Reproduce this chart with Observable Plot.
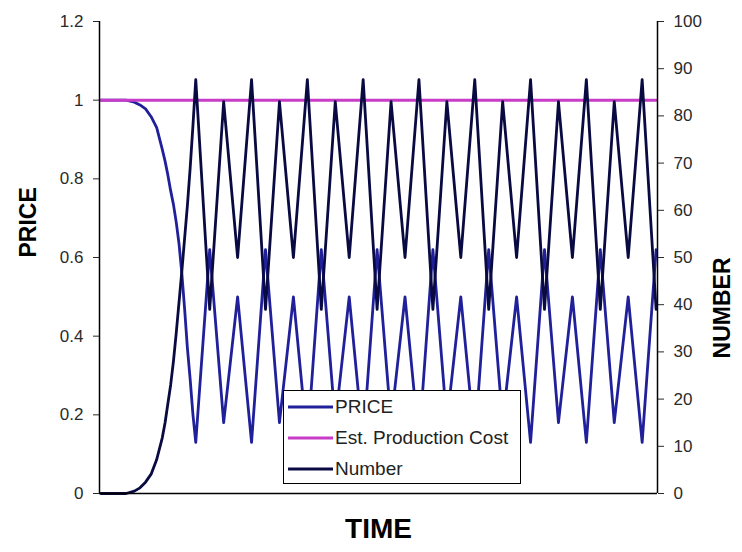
<!DOCTYPE html>
<html>
<head>
<meta charset="utf-8">
<script src="https://cdn.jsdelivr.net/npm/d3@7"></script>
<script src="https://cdn.jsdelivr.net/npm/@observablehq/plot@0.6"></script>
<style>
  html, body { margin: 0; padding: 0; background: #fff; }
  #wrap { position: relative; width: 742px; height: 552px; font-family: "Liberation Sans", Arial, sans-serif; }
  #legend { position: absolute; left: 283px; top: 390px; width: 238px; height: 94px; box-sizing: border-box;
            border: 1px solid #000; background: #fff; font-size: 19px; color: #222; }
  .row { position: absolute; left: 0; height: 24px; display: flex; align-items: center; }
  .row svg { margin-left: 4px; margin-right: 2px; }
</style>
</head>
<body>
<div id="wrap"><div id="chart"></div><div id="legend"></div></div>
<script>
// ---- data ----
const time = [1, 10, 13, 15, 17, 19, 21, 23, 24, 25, 26, 27, 28, 29, 30, 31, 32, 33, 34,
  35, 40, 45, 50, 55, 60, 65, 70, 75, 80, 85, 90, 95, 100, 105, 110, 115, 120,
  125, 130, 135, 140, 145, 150, 155, 160, 165, 170, 175, 180, 185, 190, 195, 200];
const price = [1, 1, 0.995, 0.988, 0.978, 0.958, 0.93, 0.875, 0.845, 0.81, 0.77, 0.735, 0.69, 0.635, 0.56, 0.47, 0.37, 0.29, 0.2,
  0.13, 0.62, 0.18, 0.5, 0.13, 0.62, 0.18, 0.5, 0.13, 0.62, 0.18, 0.5, 0.13, 0.62, 0.18, 0.5, 0.13, 0.62,
  0.18, 0.5, 0.13, 0.62, 0.18, 0.5, 0.13, 0.62, 0.18, 0.5, 0.13, 0.62, 0.18, 0.5, 0.13, 0.62];
const number = [0, 0, 0.5, 1.2, 2.4, 4.1, 7.2, 11.8, 15, 19, 23, 28, 34, 40.5, 47, 54, 61, 69, 78,
  87.7, 39, 83, 50, 87.7, 39, 83, 50, 87.7, 39, 83, 50, 87.7, 39, 83, 50, 87.7, 39,
  83, 50, 87.7, 39, 83, 50, 87.7, 39, 83, 50, 87.7, 39, 83, 50, 87.7, 39];
const costTime = [1, 200];
const cost = [1, 1];
const timeDomain = [0.5, 200.5];
const priceTicks = [0, 0.2, 0.4, 0.6, 0.8, 1, 1.2];
const numberTicks = [0, 10, 20, 30, 40, 50, 60, 70, 80, 90, 100];
const priceMax = 1.2, numberMax = 100;
const legendLabels = ["PRICE", "Est. Production Cost", "Number"];
const colors = {price: "#20209a", cost: "#c83cc8", number: "#0a0a42"};

const k = priceMax / numberMax; // secondary axis ratio
const priceData = time.map((t, i) => ({t, v: price[i]}));
const numberData = time.map((t, i) => ({t, v: number[i]}));
const costData = costTime.map((t, i) => ({t, v: cost[i]}));

const chart = Plot.plot({
  width: 742, height: 552,
  marginLeft: 99, marginRight: 85, marginTop: 21, marginBottom: 59,
  x: {domain: timeDomain, axis: null},
  y: {domain: [0, priceMax], axis: null},
  style: {fontFamily: "Liberation Sans, Arial, sans-serif", fontSize: "17px", color: "#2a2a2a", background: "#fff"},
  marks: [
    Plot.axisY(priceTicks, {anchor: "left", tickSize: 6, tickPadding: 10, label: null,
      tickFormat: d => String(+d.toFixed(1))}),
    Plot.axisY(numberTicks.map(n => n * k), {anchor: "right", tickSize: 6, tickPadding: 10, label: null,
      tickFormat: d => String(Math.round(d / k))}),
    Plot.line(priceData, {x: "t", y: "v", stroke: colors.price, strokeWidth: 2.8}),
    Plot.line(costData, {x: "t", y: "v", stroke: colors.cost, strokeWidth: 3}),
    Plot.line(numberData, {x: "t", y: d => d.v * k, stroke: colors.number, strokeWidth: 2.8}),
    Plot.ruleY([0], {stroke: "#000", strokeWidth: 1.5}),
    Plot.ruleX(timeDomain, {stroke: "#000", strokeWidth: 1.5}),
    Plot.text(["PRICE"], {text: d => d, frameAnchor: "left", dx: -71, rotate: -90, fontSize: 23, fontWeight: "bold", fill: "#000"}),
    Plot.text(["NUMBER"], {text: d => d, frameAnchor: "right", dx: 65, rotate: -90, fontSize: 23, fontWeight: "bold", fill: "#000"}),
    Plot.text(["TIME"], {text: d => d, frameAnchor: "bottom", dy: 44, fontSize: 28, fontWeight: "bold", fill: "#000"})
  ]
});
document.getElementById("chart").appendChild(chart);

// legend inside the plot area
const legend = document.getElementById("legend");
const legendColors = [colors.price, colors.cost, colors.number];
legendLabels.forEach((label, i) => {
  const row = document.createElement("div");
  row.className = "row";
  row.style.top = (4 + i * 31) + "px";
  row.innerHTML = `<svg width="45" height="6"><line x1="0" x2="45" y1="3" y2="3" stroke="${legendColors[i]}" stroke-width="3"/></svg><span>${label}</span>`;
  legend.appendChild(row);
});
</script>
</body>
</html>
